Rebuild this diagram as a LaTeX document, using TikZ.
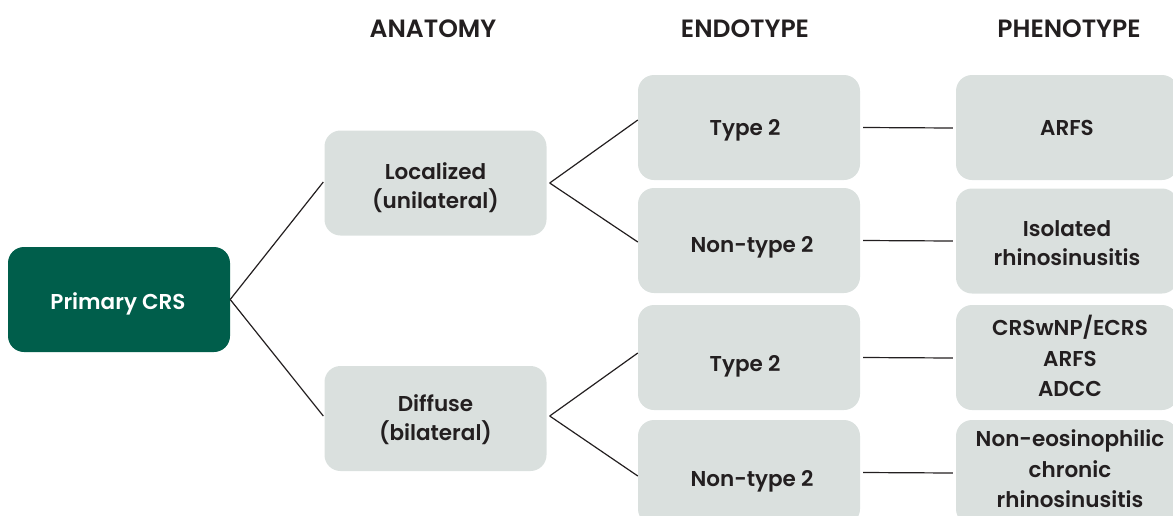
\documentclass[tikz,border=0pt]{standalone}
\usepackage{fontspec}
\setmainfont{Poppins}[UprightFont=* SemiBold]
\usetikzlibrary{calc}
\definecolor{ink}{HTML}{231F20}
\definecolor{boxgray}{HTML}{DAE0DE}
\definecolor{darkgreen}{HTML}{005E4B}
\begin{document}
\begin{tikzpicture}[x=1pt,y=-1pt,
  box/.style={rounded corners=16pt, minimum width=222pt, minimum height=105pt,
    inner sep=0pt, fill=boxgray},
  rootbox/.style={box, fill=darkgreen},
  txt/.style={anchor=base, align=center, inner sep=0pt, text=ink,
    font=\fontsize{21.5}{28.5}\selectfont},
  head/.style={font=\fontsize{25}{28}\selectfont, text=ink, anchor=base, inner sep=0pt},
  link/.style={draw=ink, line width=1.2pt}]
\useasboundingbox (0,0) rectangle (1173,515);
\begin{scope}
\clip (0,0) rectangle (1173,515);
% headers
\node[head] (hA) at (433,37) {ANATOMY};
\node[head] (hE) at (745,37) {ENDOTYPE};
\node[head] (hP) at (1069,37) {PHENOTYPE};
% boxes
\node[rootbox] (root) at (119,299.5) {};
\node[box] (loc) at (435.5,183) {};
\node[box] (dif) at (435.5,418.5) {};
\node[box] (t2a) at (749,127.5) {};
\node[box] (n2a) at (749,240.5) {};
\node[box] (t2b) at (749,357.5) {};
\node[box] (n2b) at (749,472.5) {};
\node[box] (pa) at (1067,127.5) {};
\node[box] (pb) at (1067,241) {};
\node[box] (pc) at (1067,357.5) {};
\node[box] (pd) at (1067,472.5) {};
% texts (base = baseline of the last line)
\node[txt, text=white] (troot) at (118,309) {Primary CRS};
\node[txt] (tloc) at (435.5,208) {Localized\\(unilateral)};
\node[txt] (tdif) at (435.5,440) {Diffuse\\(bilateral)};
\node[txt] (tt2a) at (745,135) {Type 2};
\node[txt] (tn2a) at (752,252.5) {Non-type 2};
\node[txt] (tt2b) at (745,371) {Type 2};
\node[txt] (tn2b) at (752,486) {Non-type 2};
\node[txt] (tpa) at (1067,135) {ARFS};
\node[txt] (tpb) at (1067,265) {Isolated\\rhinosinusitis};
\node[txt, font=\fontsize{21.5}{30.4}\selectfont] (tpc) at (1070,396.5) {CRSwNP/ECRS\\ARFS\\ADCC};
\node[txt, font=\fontsize{21.5}{30.5}\selectfont] (tpd) at (1070,507.5) {Non-eosinophilic\\chronic\\rhinosinusitis};
% connectors
\draw[link] (root.east) -- ($(loc.west)+(-1,-1)$);
\draw[link] (root.east) -- ($(dif.west)+(-1,-2.5)$);
\draw[link] ($(loc.east)+(3,0)$) -- ($(t2a.west)+(0,-7.5)$);
\draw[link] ($(loc.east)+(3,0)$) -- ($(n2a.west)+(0,1.5)$);
\draw[link] ($(dif.east)+(3,-2.5)$) -- ($(t2b.west)+(0,-4.5)$);
\draw[link] ($(dif.east)+(3,-2.5)$) -- ($(n2b.west)+(0,3.5)$);
\draw[link] ($(t2a.east)+(3,0)$) -- ($(pa.west)+(-3,0.5)$);
\draw[link] ($(n2a.east)+(3,0)$) -- ($(pb.west)+(-3,0)$);
\draw[link] ($(t2b.east)+(3,0)$) -- ($(pc.west)+(-3,0.5)$);
\draw[link] ($(n2b.east)+(3,0)$) -- ($(pd.west)+(-3,0.5)$);
\end{scope}
\end{tikzpicture}
\end{document}
